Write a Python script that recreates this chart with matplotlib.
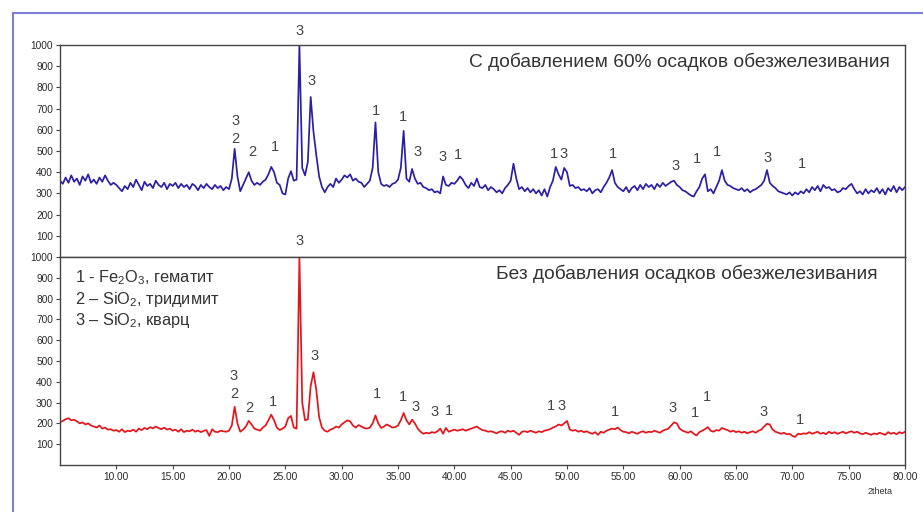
import matplotlib
matplotlib.use('Agg')
import matplotlib.pyplot as plt
from matplotlib.lines import Line2D
from matplotlib.ticker import FormatStrFormatter
import numpy as np

plt.rcParams['font.family'] = ['Liberation Sans', 'DejaVu Sans']
plt.rcParams['mathtext.fontset'] = 'custom'
plt.rcParams['mathtext.rm'] = 'Liberation Sans'

# 2theta scan grid, 5.00 .. 80.00 step 0.25
two_theta = np.arange(5.0, 80.001, 0.25)

# With 60% deironing sludge (blue), one row = 5 degrees
counts_with = [
    360, 345, 375, 350, 385, 355, 370, 340, 380, 360, 390, 350, 365, 345, 375, 355, 385, 360, 340, 350,
    340, 325, 310, 335, 320, 350, 330, 365, 340, 315, 355, 335, 345, 325, 360, 340, 330, 350, 320, 345,
    335, 350, 325, 345, 330, 340, 320, 345, 335, 315, 340, 325, 345, 330, 320, 340, 325, 335, 315, 330,
    320, 370, 510, 380, 310, 340, 370, 400, 360, 340, 350, 340, 355, 365, 390, 425, 400, 350, 340, 300,
    295, 370, 405, 360, 365, 1000, 420, 385, 450, 755, 590, 480, 380, 330, 305, 330, 345, 330, 370, 350,
    365, 385, 375, 390, 360, 370, 355, 350, 330, 345, 360, 420, 635, 400, 345, 335, 340, 330, 345, 350,
    365, 420, 595, 370, 355, 415, 370, 345, 350, 330, 325, 315, 320, 305, 310, 300, 380, 340, 335, 350,
    345, 360, 380, 365, 340, 325, 350, 335, 370, 330, 325, 340, 315, 330, 320, 305, 315, 300, 325, 340,
    360, 440, 370, 320, 330, 310, 325, 305, 320, 300, 315, 290, 320, 285, 330, 360, 425, 390, 365, 420,
    400, 335, 340, 325, 330, 315, 320, 310, 325, 300, 315, 320, 305, 330, 350, 375, 410, 350, 330, 320,
    310, 330, 305, 325, 335, 315, 340, 320, 345, 330, 340, 320, 345, 330, 350, 335, 345, 355, 360, 340,
    330, 315, 310, 300, 290, 285, 310, 330, 370, 390, 310, 320, 300, 330, 360, 410, 360, 340, 335, 325,
    320, 315, 325, 310, 320, 305, 315, 320, 330, 340, 360, 410, 350, 335, 325, 310, 305, 300, 295, 305,
    290, 305, 295, 310, 300, 320, 305, 330, 315, 335, 310, 340, 325, 330, 315, 320, 305, 310, 325, 320,
    335, 345, 320, 300, 310, 295, 320, 300, 315, 305, 325, 300, 320, 295, 325, 310, 335, 305, 330, 315,
    330,
]

# Without deironing sludge (red)
counts_without = [
    205, 212, 220, 225, 215, 218, 210, 200, 205, 195, 200, 190, 185, 180, 190, 175, 180, 170, 172, 165,
    168, 160, 172, 158, 165, 162, 170, 160, 175, 168, 178, 172, 182, 176, 185, 178, 172, 180, 170, 175,
    165, 170, 160, 172, 158, 165, 162, 170, 160, 166, 158, 164, 168, 140, 172, 160, 158, 165, 162, 160,
    165, 190, 280, 200, 160, 170, 185, 212, 195, 175, 170, 165, 180, 190, 215, 242, 215, 180, 168, 175,
    185, 225, 236, 180, 175, 1000, 300, 215, 220, 380, 446, 360, 230, 180, 165, 160, 170, 175, 185, 180,
    195, 205, 215, 210, 190, 180, 192, 185, 178, 175, 180, 200, 238, 200, 178, 185, 195, 188, 180, 182,
    190, 215, 250, 215, 195, 218, 200, 175, 160, 150, 155, 152, 158, 155, 162, 175, 150, 178, 160, 165,
    170, 165, 168, 172, 165, 170, 175, 180, 185, 175, 168, 165, 160, 162, 158, 152, 160, 162, 155, 165,
    160, 165, 155, 145, 160, 162, 158, 165, 160, 155, 162, 158, 165, 168, 172, 180, 185, 195, 190, 200,
    212, 170, 165, 168, 160, 165, 158, 162, 155, 150, 158, 145, 160, 155, 165, 170, 175, 172, 180, 168,
    160, 158, 152, 160, 155, 150, 158, 162, 155, 160, 158, 165, 160, 155, 165, 170, 175, 190, 205, 200,
    175, 165, 160, 155, 162, 150, 142, 158, 165, 172, 182, 165, 160, 168, 165, 178, 172, 168, 160, 165,
    158, 162, 155, 160, 152, 158, 162, 155, 165, 170, 185, 198, 195, 170, 160, 155, 150, 155, 148, 150,
    140, 135, 150, 148, 152, 150, 158, 150, 155, 160, 150, 155, 148, 160, 152, 158, 150, 155, 160, 152,
    158, 162, 155, 160, 152, 148, 155, 150, 145, 152, 148, 155, 150, 145, 158, 150, 155, 148, 158, 152,
    160,
]

# phase labels: text, 2theta, height
labels_with = [
    ('3', 26.3, 1066), ('3', 27.36, 830), ('3', 20.6, 640), ('2', 20.6, 555),
    ('2', 22.1, 493), ('1', 24.1, 521), ('1', 33.04, 687), ('1', 35.43, 659),
    ('3', 36.77, 493), ('3', 38.98, 474), ('1', 40.3, 479), ('1', 48.83, 488),
    ('3', 49.7, 488), ('1', 54.07, 488), ('3', 59.66, 431), ('1', 61.52, 464),
    ('1', 63.3, 493), ('3', 67.8, 469), ('1', 70.84, 441),
]
labels_without = [
    ('3', 26.3, 1075), ('3', 27.63, 526), ('3', 20.44, 430), ('2', 20.44, 339),
    ('2', 21.77, 272), ('1', 23.9, 301), ('1', 33.13, 339), ('1', 35.44, 325),
    ('3', 36.59, 277), ('3', 38.2, 253), ('1', 39.5, 258), ('1', 48.57, 282),
    ('3', 49.54, 282), ('1', 54.25, 253), ('3', 59.4, 272), ('1', 61.35, 248),
    ('1', 62.4, 325), ('3', 67.47, 253), ('1', 70.66, 215),
]

legend_lines = ['1 - Fe$_2$O$_3$, гематит', '2 – SiO$_2$, тридимит', '3 – SiO$_2$, кварц']

x_ticks = [10, 15, 20, 25, 30, 35, 40, 45, 50, 55, 60, 65, 70, 75, 80]
y_ticks = [100, 200, 300, 400, 500, 600, 700, 800, 900, 1000]

W, H = 923, 512
fig = plt.figure(figsize=(W / 100, H / 100), dpi=100)
fig.patch.set_facecolor('white')

# outer blue frame (only top and left visible)
frame_col = '#7f7fd6'
fig.add_artist(Line2D([13 / W, 1.0], [1 - 13 / H, 1 - 13 / H], color=frame_col, lw=1.5))
fig.add_artist(Line2D([13 / W, 13 / W], [1 - 13 / H, 0.0], color=frame_col, lw=1.5))

left, width = 60 / W, 845 / W
ax_top = fig.add_axes([left, 1 - 257 / H, width, 212 / H])
ax_bot = fig.add_axes([left, 1 - 465 / H, width, 208 / H])

panels = [
    (ax_top, counts_with, '#2b1fa6', labels_with,
     'С добавлением 60% осадков обезжелезивания', 0.982, 0.92),
    (ax_bot, counts_without, '#e5141b', labels_without,
     'Без добавления осадков обезжелезивания', 0.968, 0.92),
]

for ax, counts, col, labels, title, tx, ty in panels:
    ax.plot(two_theta, counts, color=col, lw=1.25)
    ax.set_xlim(5, 80)
    ax.set_ylim(0, 1000)
    ax.set_yticks(y_ticks)
    ax.set_xticks(x_ticks)
    ax.xaxis.set_major_formatter(FormatStrFormatter('%.2f'))
    ax.tick_params(axis='both', labelsize=7.3, labelcolor='#2a2a2a', color='#444444',
                   length=3, width=0.8, pad=2)
    for sp in ax.spines.values():
        sp.set_color('#444444')
        sp.set_linewidth(1.0)
    for txt, t, h in labels:
        ax.text(t, h, txt, ha='center', va='center', fontsize=10.5, color='#444444', clip_on=False)
    ax.text(tx, ty, title, transform=ax.transAxes,
            ha='right', va='center', fontsize=13.8, color='#333333')

ax_top.tick_params(axis='x', bottom=False, labelbottom=False)

for i, line in enumerate(legend_lines):
    ax_bot.text(0.018, 0.899 - i * 0.101, line, transform=ax_bot.transAxes,
                ha='left', va='center', fontsize=11.8, color='#333333')

fig.text(880 / W, 1 - 492 / H, '2theta', ha='center', va='center', fontsize=6.5, color='#333333')

fig.savefig('out.png', dpi=100, facecolor='white')
